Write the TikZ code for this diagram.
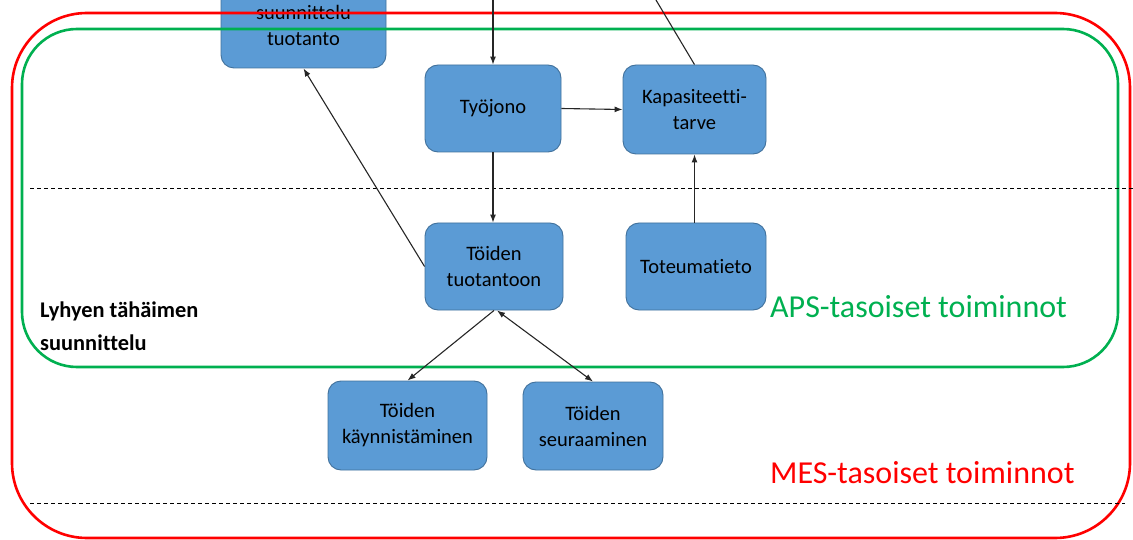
\documentclass[tikz,border=0pt]{standalone}
\usepackage{fontspec}
\setmainfont[Ligatures=NoCommon]{Carlito}
\usetikzlibrary{arrows.meta,calc}
\definecolor{boxfill}{HTML}{5B9BD5}
\definecolor{boxline}{HTML}{41719C}
\definecolor{apsgreen}{HTML}{00B050}
\definecolor{mesred}{HTML}{FF0000}
\begin{document}
\begin{tikzpicture}[x=1pt,y=-1pt,
  proc/.style={draw=boxline, line width=0.9pt, fill=boxfill, rounded corners=13pt,
    align=center, font=\fontsize{20.5}{26}\selectfont, inner sep=0pt},
  tip/.tip={Latex[length=8pt,width=6pt]},
  flow/.style={draw=black!85, line width=1.1pt, -tip},
  link/.style={draw=black!85, line width=1.1pt},
  both/.style={draw=black!85, line width=1.1pt, tip-tip},
  frame/.style={line width=2.6pt},
  sep/.style={line width=0.9pt, dash pattern=on 4pt off 3pt}
]
\clip (0,0) rectangle (1133,540);

% process boxes
\node[proc, minimum width=165pt, minimum height=86pt] (plan) at (303.5,25) {suunnittelu\\tuotanto};
\node[proc, minimum width=136pt, minimum height=87pt] (queue) at (493,108.5) {Työjono};
\node[proc, minimum width=143pt, minimum height=89pt] (cap) at (694.5,109.5) {Kapasiteetti-\\tarve};
\node[proc, minimum width=138pt, minimum height=87pt] (rel) at (494,266.5) {Töiden\\tuotantoon};
\node[proc, minimum width=140pt, minimum height=87pt] (act) at (696,266.5) {Toteumatieto};
\node[proc, minimum width=159pt, minimum height=89pt] (start) at (407.5,425.5) {Töiden\\käynnistäminen};
\node[proc, minimum width=140pt, minimum height=88pt] (track) at (593,426) {Töiden\\seuraaminen};

% level frames
\draw[frame, mesred, rounded corners=75pt] (12,13) rectangle (1130,538);
\draw[frame, apsgreen, rounded corners=55pt] (22,29) rectangle (1118,367);

% level separators
\draw[sep] (30,188) -- (1133,188);
\draw[sep] (30,503) -- (1125,503);

% connectors
\coordinate (inq) at (493,-5);
\coordinate (inc) at (653,-5);
\draw[flow] (inq) -- (queue.north);
\draw[link] (inc) -- (cap.north);
\draw[flow] (queue.east) -- (cap.west);
\draw[flow] (queue.south) -- (queue.south |- rel.north);
\draw[flow] (cap.south |- act.north) -- (cap.south);
\draw[flow] (rel.west) -- (plan.south);
\draw[flow] (rel.south) -- (start.north);
\draw[both] ($(rel.south)+(3,0)$) -- (track.north);

% labels
\node[anchor=west, align=left, inner sep=0pt, font=\bfseries\fontsize{22.4}{33}\selectfont] (short) at (40,326) {Lyhyen tähäimen\\suunnittelu};
\node[anchor=west, inner sep=0pt, text=apsgreen, font=\fontsize{32}{36}\selectfont] (aps) at (770,307) {APS-tasoiset toiminnot};
\node[anchor=west, inner sep=0pt, text=mesred, font=\fontsize{32}{36}\selectfont] (mes) at (770,473) {MES-tasoiset toiminnot};
\end{tikzpicture}
\end{document}
